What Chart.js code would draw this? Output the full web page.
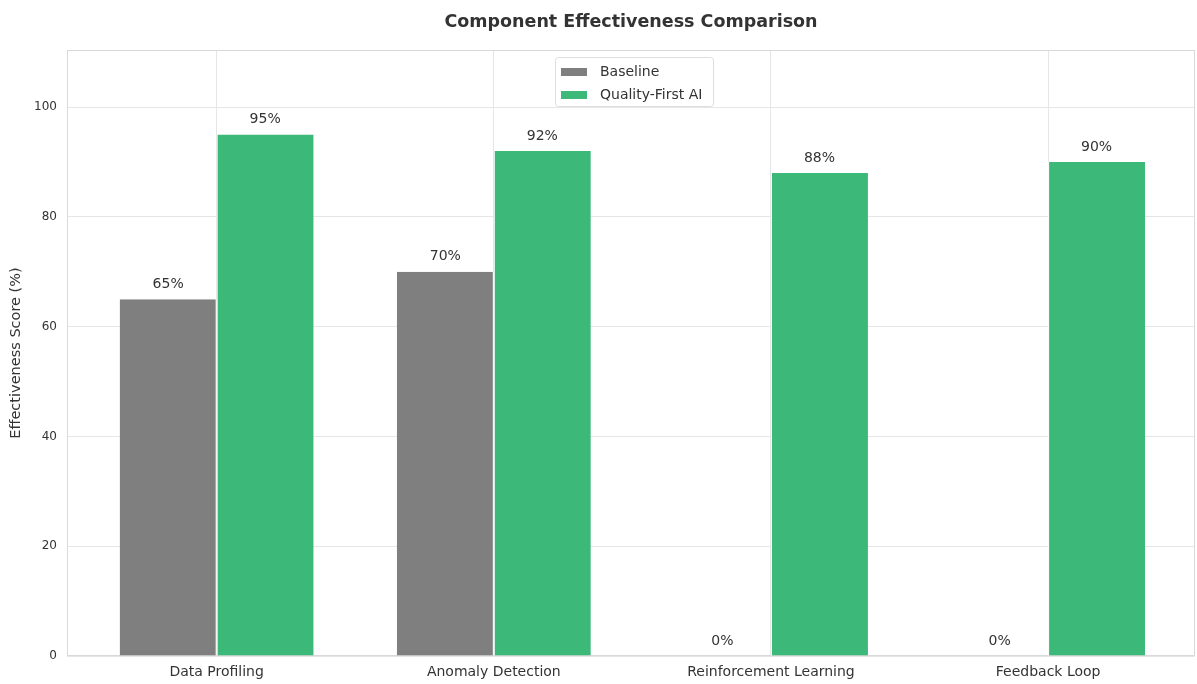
<!DOCTYPE html>
<html>
<head>
<meta charset="utf-8">
<script src="https://cdn.jsdelivr.net/npm/chart.js@4"></script>
<style>
  body { margin: 0; background: #fff; }
  canvas { display: block; }
</style>
</head>
<body>
<canvas id="myChart" width="1197" height="684"></canvas>
<script>
const categorias = ["Data Profiling", "Anomaly Detection", "Reinforcement Learning", "Feedback Loop"];
const baseline = [65, 70, 0, 0];
const qualityFirst = [95, 92, 88, 90];
const yTicks = [0, 20, 40, 60, 80, 100];
const titulo = "Component Effectiveness Comparison";

const fuente = "'DejaVu Sans', sans-serif";
const colorTexto = "#333333";

//armar los puntos {x, y} para la escala lineal
const puntos = (serie) => serie.map((v, i) => ({ x: i, y: v }));

//titulo, marco, leyenda y etiquetas de porcentaje
const extras = {
  id: "extras",
  beforeDatasetsDraw(chart) {
    const { ctx, chartArea: a } = chart;
    ctx.save();
    ctx.strokeStyle = "#d9d9d9";
    ctx.lineWidth = 1;
    ctx.strokeRect(a.left + 0.5, a.top + 0.5, a.right - a.left - 1, a.bottom - a.top - 1);
    ctx.restore();
  },
  afterDraw(chart) {
    const { ctx, chartArea: a } = chart;
    ctx.save();
    ctx.fillStyle = colorTexto;
    ctx.font = "bold 17.5px " + fuente;
    ctx.textAlign = "center";
    ctx.textBaseline = "middle";
    ctx.fillText(titulo, (a.left + a.right) / 2, 22);

    //porcentajes arriba de cada barra
    ctx.font = "14px " + fuente;
    ctx.textBaseline = "bottom";
    chart.data.datasets.forEach((ds, di) => {
      chart.getDatasetMeta(di).data.forEach((bar, i) => {
        ctx.fillText(ds.data[i].y + "%", bar.x, bar.y - 8);
      });
    });

    //leyenda dentro del grafico
    const lx = 555, ly = 57, lw = 158, lh = 49;
    ctx.fillStyle = "rgba(255,255,255,0.85)";
    ctx.strokeStyle = "#dddddd";
    ctx.beginPath();
    ctx.roundRect(lx + 0.5, ly + 0.5, lw, lh, 3);
    ctx.fill();
    ctx.stroke();
    ctx.textAlign = "left";
    ctx.textBaseline = "middle";
    chart.data.datasets.forEach((ds, di) => {
      const y = ly + 15 + di * 23;
      ctx.fillStyle = ds.backgroundColor;
      ctx.fillRect(lx + 6, y - 4, 26, 8);
      ctx.fillStyle = colorTexto;
      ctx.fillText(ds.label, lx + 45, y);
    });
    ctx.restore();
  }
};

const config = {
  type: "bar",
  data: {
    datasets: [
      { label: "Baseline", data: puntos(baseline), backgroundColor: "#7f7f7f", borderColor: "#ffffff", borderWidth: { left: 0, right: 1, top: 0, bottom: 0 } },
      { label: "Quality-First AI", data: puntos(qualityFirst), backgroundColor: "#3cb878", borderColor: "#ffffff", borderWidth: { left: 1, right: 0, top: 0, bottom: 0 } }
    ]
  },
  options: {
    responsive: false,
    animation: false,
    layout: { padding: { top: 50, right: 2, left: 0, bottom: 0 } },
    datasets: { bar: { categoryPercentage: 0.7, barPercentage: 1.0 } },
    plugins: {
      legend: { display: false },
      title: { display: false },
      tooltip: { enabled: false }
    },
    scales: {
      x: {
        type: "linear",
        offset: false,
        min: -0.54,
        max: 3.53,
        afterBuildTicks: (s) => { s.ticks = categorias.map((c, i) => ({ value: i })); },
        afterFit: (s) => { s.height = 28; },
        ticks: {
          callback: (v) => categorias[v],
          color: colorTexto,
          font: { family: fuente, size: 14 },
          maxRotation: 0,
          padding: 8
        },
        grid: { color: "#e6e6e6", tickLength: 0, offset: false },
        border: { display: false }
      },
      y: {
        min: 0,
        max: 110.4,
        afterBuildTicks: (s) => { s.ticks = yTicks.map((v) => ({ value: v })); },
        afterFit: (s) => { s.width = 67; },
        ticks: {
          color: colorTexto,
          font: { family: fuente, size: 12 },
          padding: 10
        },
        grid: { color: "#e6e6e6", tickLength: 0 },
        border: { display: false },
        title: {
          display: true,
          text: "Effectiveness Score (%)",
          color: colorTexto,
          font: { family: fuente, size: 14.5 },
          padding: { top: 8, bottom: 0 }
        }
      }
    }
  },
  plugins: [extras]
};

new Chart(document.getElementById("myChart"), config);
</script>
</body>
</html>
